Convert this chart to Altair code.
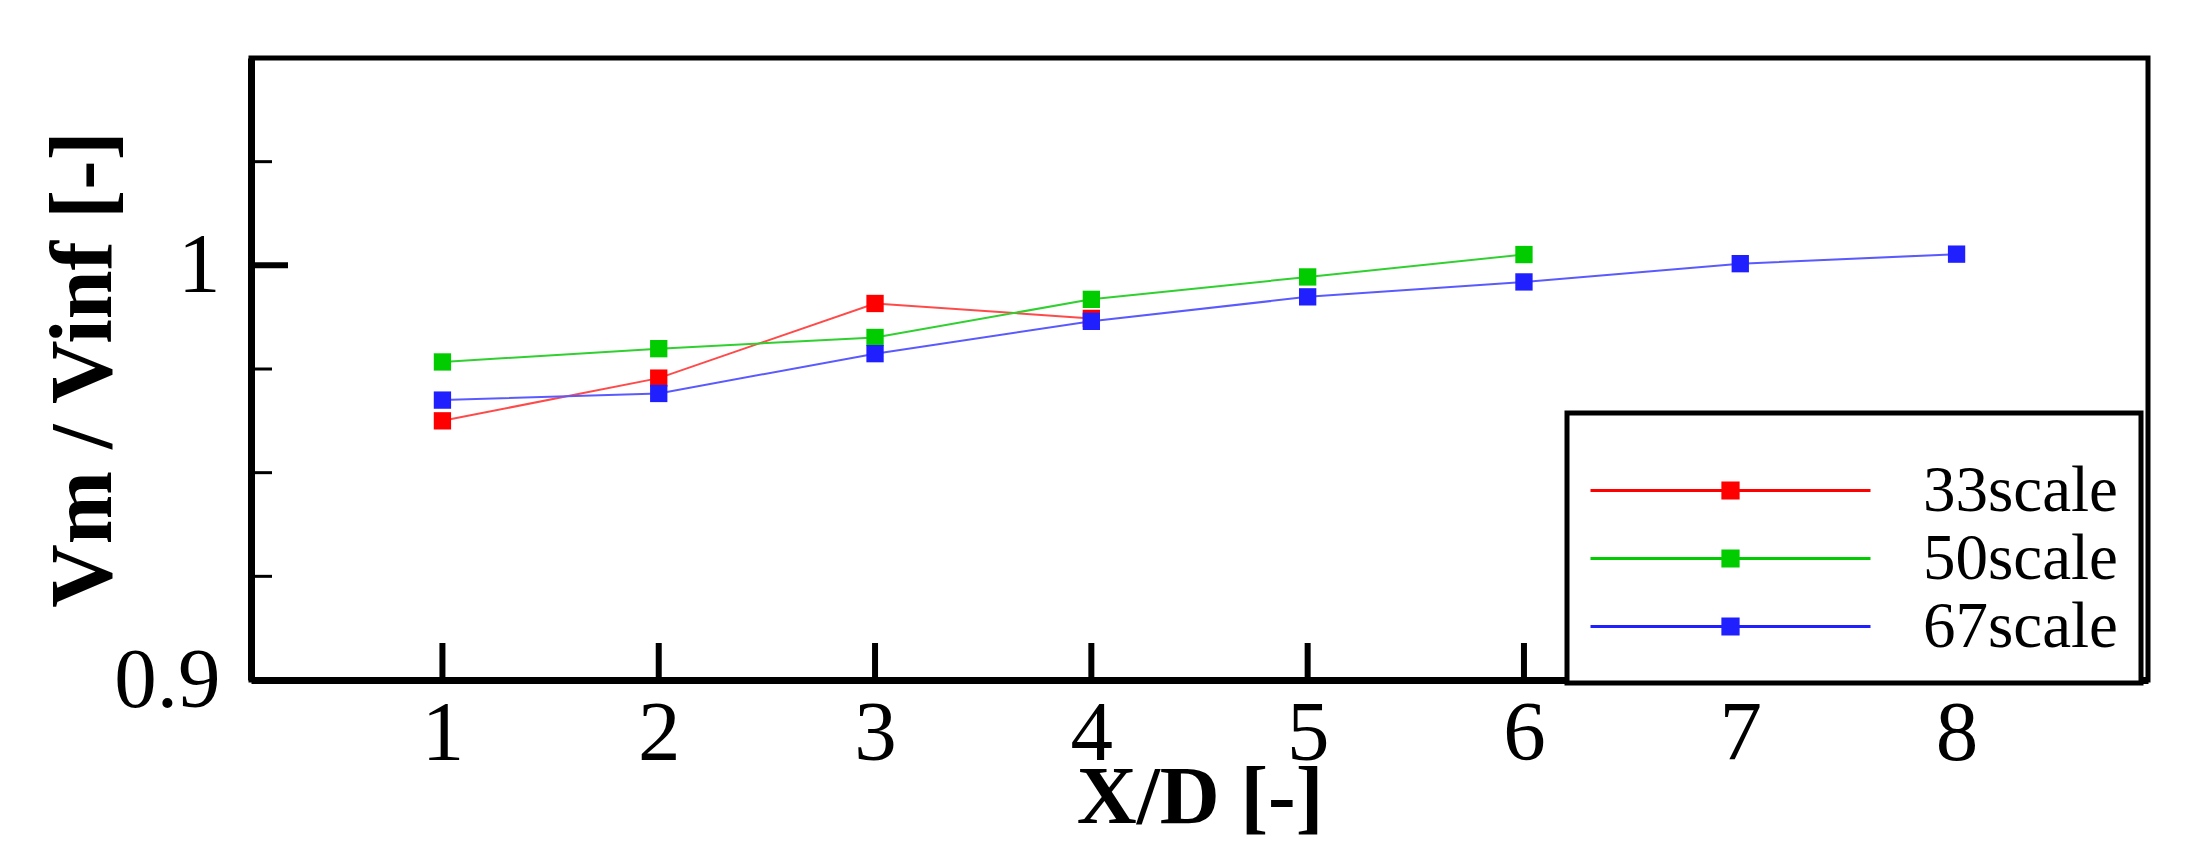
import altair as alt
import pandas as pd

# ---- data ----
x_vals = [1, 2, 3, 4, 5, 6, 7, 8]
s33 = [0.9625, 0.9728, 0.9908, 0.9872]
s50 = [0.9767, 0.9799, 0.9826, 0.9918, 0.9972, 1.0026]
s67 = [0.9675, 0.9691, 0.9787, 0.9865, 0.9924, 0.9960, 1.0004, 1.0027]
series_names = ["33scale", "50scale", "67scale"]
marker_colors = ["#ff0000", "#00cc00", "#2020ff"]
line_colors = ["#ff4a4a", "#2fd02f", "#5a5aff"]

x_tick_values = [1, 2, 3, 4, 5, 6, 7, 8]
y_major_ticks = [1.0]
y_minor_ticks = [0.925, 0.95, 0.975, 1.025]
y_label_values = [0.9, 1.0]

rows = []
for name, lc, vals in zip(series_names, line_colors, [s33, s50, s67]):
    for xv, yv in zip(x_vals, vals):
        rows.append({"x": xv, "v": yv, "series": name, "lc": lc})
df = pd.DataFrame(rows)

W, H = 1897, 622
FONT = "Liberation Serif"

xscale = alt.Scale(domain=[0.115, 8.885], nice=False, zero=False)
yscale = alt.Scale(domain=[0.9, 1.05], nice=False, zero=False)

x_axis = alt.Axis(values=x_tick_values, format="d", ticks=False, tickSize=0, grid=False,
                  domainColor="black", domainWidth=7, labelFont=FONT, labelFontSize=85,
                  labelColor="black", labelPadding=12, labelFlush=False,
                  title="X/D [-]", titleFont=FONT, titleFontSize=83, titleFontWeight="bold",
                  titleColor="black", titleY=142, titleBaseline="alphabetic")
y_axis = alt.Axis(values=y_label_values, format="~g", ticks=False, tickSize=0, grid=False,
                  domainColor="black", domainWidth=7, labelFont=FONT, labelFontSize=85,
                  labelColor="black", labelPadding=31, labelFlush=False, labelOverlap=False,
                  title="Vm / Vinf [-]", titleFont=FONT, titleFontSize=88, titleFontWeight="bold",
                  titleColor="black", titleX=-141, titleBaseline="alphabetic")

# legend symbol: a thin line with a square marker in its middle (symbol radius 32 px)
legend_path = ("M-1,-0.045L7.75,-0.045L7.75,0.045L-1,0.045Z "
               "M3.09,-0.28L3.66,-0.28L3.66,0.28L3.09,0.28Z")

lines = alt.Chart(df).mark_line(strokeWidth=2).encode(
    x=alt.X("x:Q", scale=xscale, axis=x_axis),
    y=alt.Y("v:Q", scale=yscale, axis=y_axis),
    stroke=alt.Stroke("lc:N", scale=None),
    detail="series:N",
    order="x:Q",
)

points = alt.Chart(df).mark_point(filled=True, shape="square", size=300, opacity=1).encode(
    x=alt.X("x:Q", scale=xscale),
    y=alt.Y("v:Q", scale=yscale),
    fill=alt.Fill("series:N", scale=alt.Scale(domain=series_names, range=marker_colors),
                  legend=alt.Legend(orient="none", legendX=1316, legendY=355, title=" ",
                                    titleFontSize=10, titlePadding=12, padding=23,
                                    symbolType=legend_path, symbolSize=4096, symbolStrokeWidth=0,
                                    symbolOpacity=1, labelFont=FONT, labelFontSize=65,
                                    labelColor="black", labelOffset=268, rowPadding=2,
                                    labelLimit=500, fillColor="white", strokeColor="black",
                                    cornerRadius=0)),
)

xt = pd.DataFrame({"x": x_tick_values})
x_ticks = alt.Chart(xt).mark_rule(color="black", strokeWidth=6).encode(
    x=alt.X("x:Q", scale=xscale),
    y=alt.value(H), y2=alt.value(H - 37),
)
ymaj = pd.DataFrame({"v": y_major_ticks})
y_ticks_major = alt.Chart(ymaj).mark_rule(color="black", strokeWidth=6).encode(
    y=alt.Y("v:Q", scale=yscale),
    x=alt.value(0), x2=alt.value(37),
)
ymin = pd.DataFrame({"v": y_minor_ticks})
y_ticks_minor = alt.Chart(ymin).mark_rule(color="black", strokeWidth=3).encode(
    y=alt.Y("v:Q", scale=yscale),
    x=alt.value(0), x2=alt.value(21),
)

chart = alt.layer(lines, x_ticks, y_ticks_major, y_ticks_minor, points).properties(
    width=W, height=H,
    background="white",
    autosize=alt.AutoSizeParams(type="none"),
    padding={"left": 243, "top": 50, "right": 30, "bottom": 160},
).configure_view(
    stroke="black", strokeWidth=5
).configure_legend(
    strokeWidth=5
)

chart.save("out.html", embed_options={"renderer": "svg", "actions": False})
